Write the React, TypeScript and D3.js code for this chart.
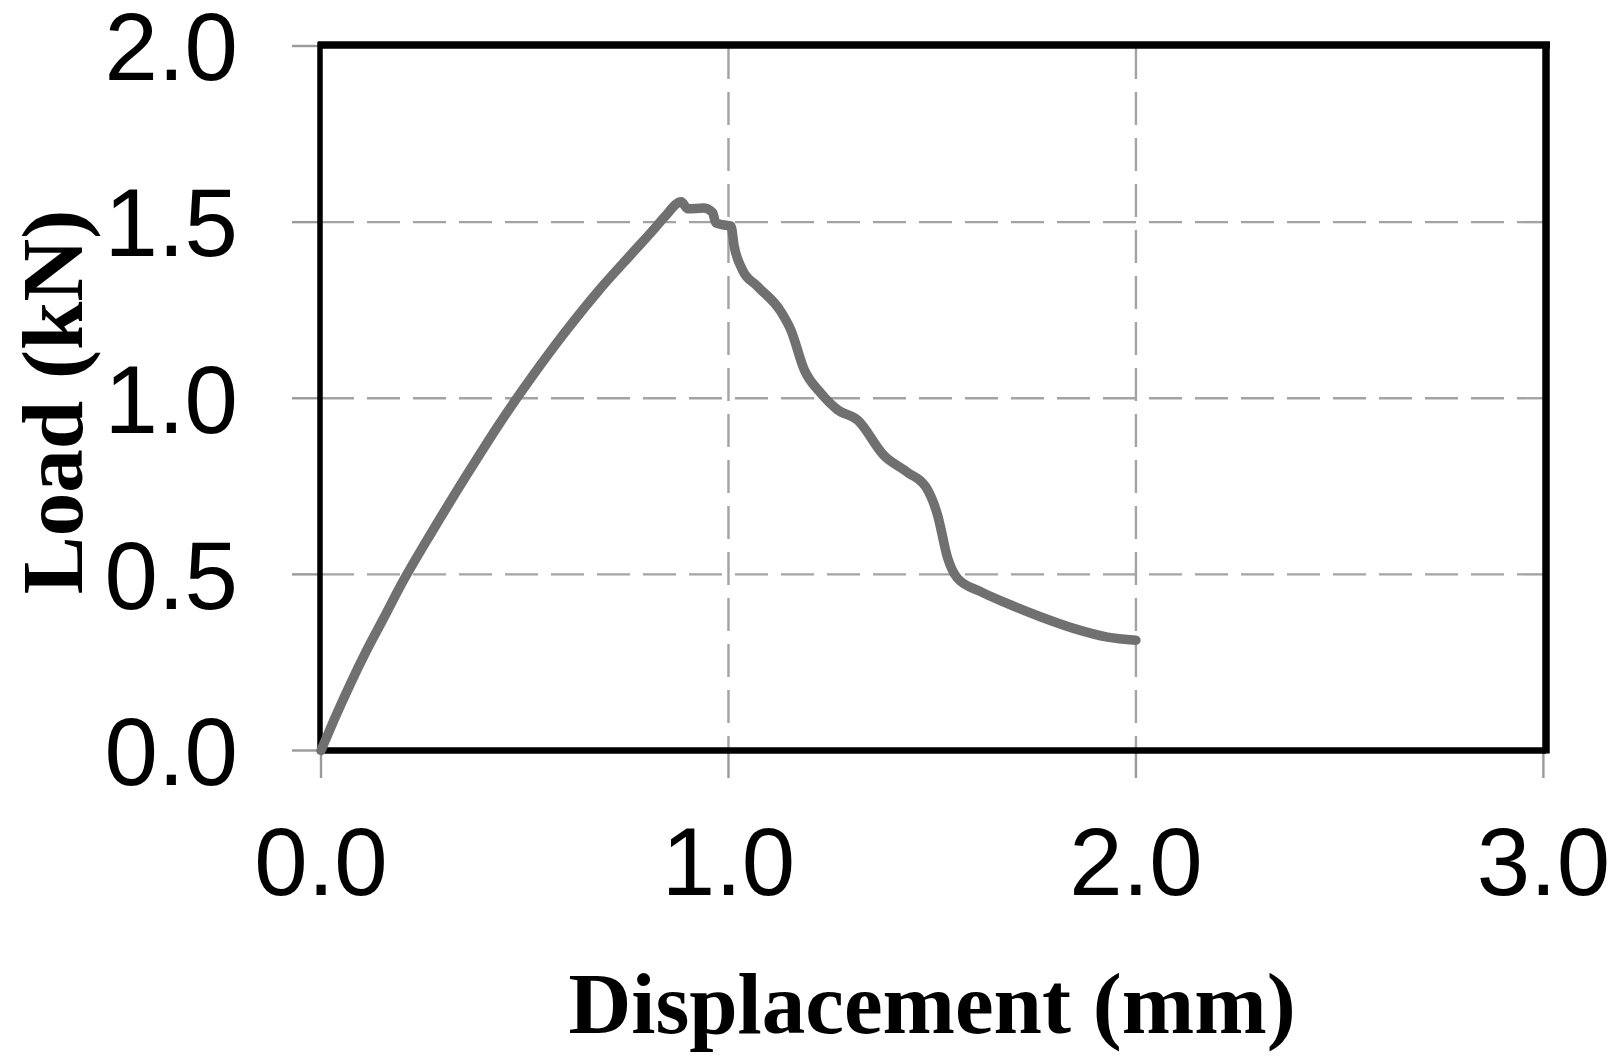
import React from "react";
import * as d3 from "d3";

const displacement = [0, 0.031, 0.072, 0.112, 0.153, 0.193, 0.275, 0.356, 0.437, 0.519, 0.6, 0.681, 0.763, 0.82, 0.844, 0.884, 0.9, 0.94, 0.961, 0.969, 1.0, 1.006, 1.014, 1.034, 1.071, 1.128, 1.153, 1.186, 1.227, 1.268, 1.317, 1.382, 1.439, 1.485, 1.513, 1.538, 1.562, 1.619, 1.685, 1.767, 1.849, 1.93, 2.0];
const load = [0, 0.084, 0.189, 0.284, 0.374, 0.463, 0.626, 0.779, 0.926, 1.063, 1.189, 1.305, 1.411, 1.484, 1.516, 1.558, 1.538, 1.54, 1.527, 1.498, 1.49, 1.489, 1.432, 1.365, 1.318, 1.247, 1.194, 1.081, 1.014, 0.967, 0.938, 0.837, 0.79, 0.747, 0.669, 0.546, 0.489, 0.451, 0.417, 0.379, 0.346, 0.322, 0.313];
const xTicks = [0, 1, 2, 3];
const yTicks = [0, 0.5, 1.0, 1.5, 2.0];
const xTitle = "Displacement (mm)";
const yTitle = "Load (kN)";

const W = 1621;
const H = 1063;
const left = 321;
const right = 1543.4;
const top = 46;
const bottom = 750.5;

export default function App() {
  const x = d3.scaleLinear().domain([0, 3]).range([left, right]);
  const y = d3.scaleLinear().domain([0, 2]).range([bottom, top]);
  const pts = displacement.map((d, i) => [d, load[i]] as [number, number]);
  const line = d3
    .line<[number, number]>()
    .x((d) => x(d[0]))
    .y((d) => y(d[1]))
    .curve(d3.curveMonotoneX);
  const fs = 96;
  return (
    <svg
      width={W}
      height={H}
      style={{ position: "absolute", left: 0, top: 0, background: "#fff" }}
    >
      <rect x={0} y={0} width={W} height={H} fill="#fff" />
      {/* horizontal gridlines */}
      {yTicks.filter((t) => t > 0 && t < 2).map((t) => (
        <line key={"hg" + t} x1={left} x2={1546} y1={y(t)} y2={y(t)} stroke="#a3a3a3" strokeWidth={2.4} strokeDasharray="33,13" />
      ))}
      {/* vertical gridlines */}
      {xTicks.filter((t) => t > 0 && t < 3).map((t) => (
        <line key={"vg" + t} x1={x(t)} x2={x(t)} y1={top} y2={bottom} stroke="#a3a3a3" strokeWidth={2.4} strokeDasharray="33,13" />
      ))}
      {/* ticks */}
      {yTicks.map((t) => (
        <line key={"yt" + t} x1={292} x2={left} y1={y(t)} y2={y(t)} stroke="#9a9a9a" strokeWidth={2.4} />
      ))}
      {xTicks.map((t) => (
        <line key={"xt" + t} x1={x(t)} x2={x(t)} y1={bottom} y2={778} stroke="#9a9a9a" strokeWidth={2.4} />
      ))}
      {/* frame */}
      <line x1={318} x2={1550} y1={45} y2={45} stroke="#000" strokeWidth={7.5} />
      <line x1={1546} x2={1546} y1={42} y2={bottom + 3} stroke="#000" strokeWidth={7.5} />
      <line x1={left - 1} x2={left - 1} y1={42} y2={bottom + 3} stroke="#000" strokeWidth={5.5} />
      <line x1={left - 3} x2={1546} y1={bottom} y2={bottom} stroke="#000" strokeWidth={6.5} />
      {/* data line */}
      <path d={line(pts) || ""} fill="none" stroke="#707070" strokeWidth={9.5} strokeLinejoin="round" strokeLinecap="round" />
      {/* y tick labels */}
      {yTicks.map((t) => (
        <text key={"yl" + t} x={238} y={y(t) + fs * 0.358} textAnchor="end" fontFamily="'Liberation Sans', Arial, sans-serif" fontSize={fs} fill="#000">
          {t.toFixed(1)}
        </text>
      ))}
      {/* x tick labels */}
      {xTicks.map((t) => (
        <text key={"xl" + t} x={x(t)} y={895} textAnchor="middle" fontFamily="'Liberation Sans', Arial, sans-serif" fontSize={fs} fill="#000">
          {t.toFixed(1)}
        </text>
      ))}
      {/* axis titles */}
      <text x={932} y={1033} textAnchor="middle" fontFamily="'Liberation Serif', 'Times New Roman', serif" fontWeight="bold" fontSize={87} fill="#000">
        {xTitle}
      </text>
      <text transform={`translate(82, 402) rotate(-90)`} textAnchor="middle" fontFamily="'Liberation Serif', 'Times New Roman', serif" fontWeight="bold" fontSize={87} fill="#000">
        {yTitle}
      </text>
    </svg>
  );
}
